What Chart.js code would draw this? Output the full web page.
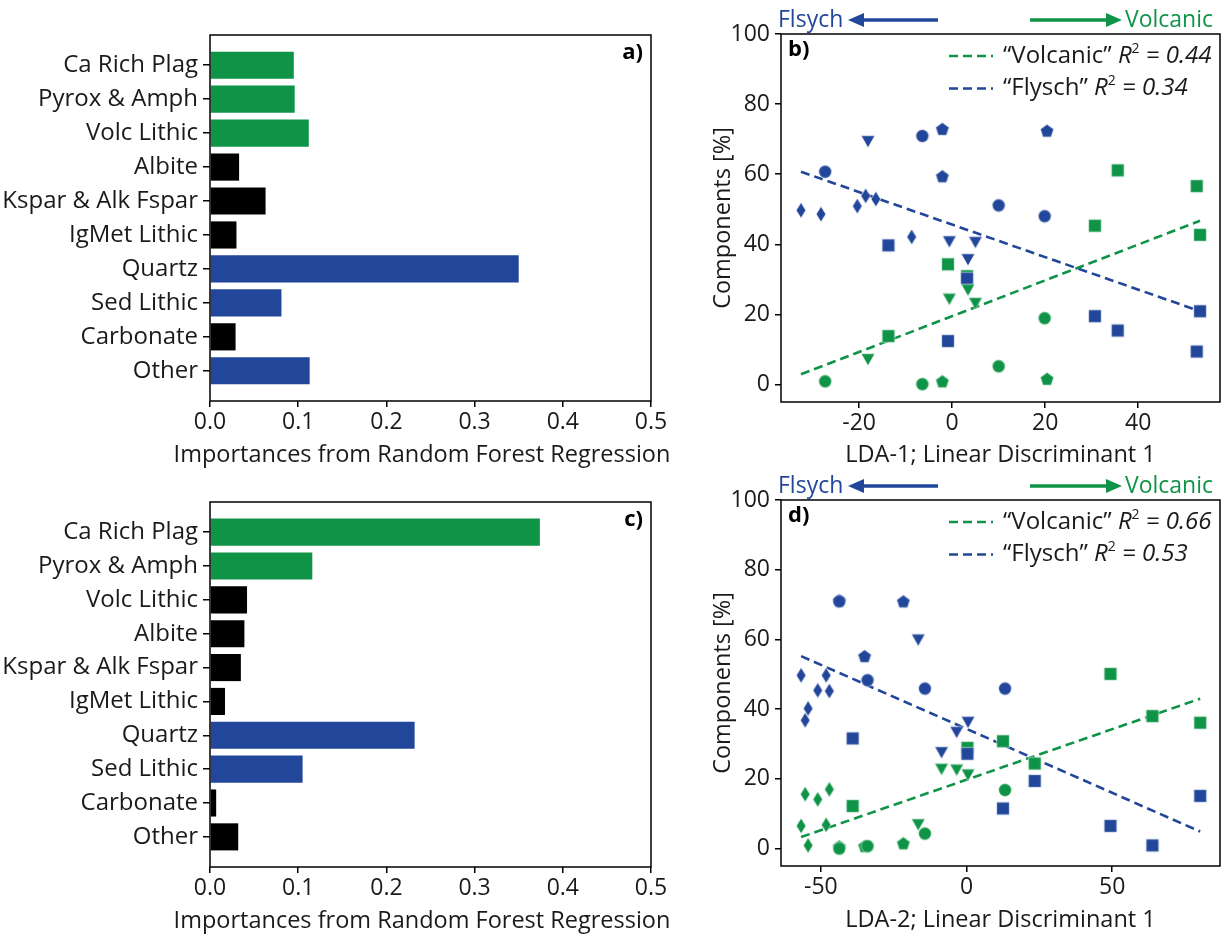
<!DOCTYPE html>
<html>
<head>
<meta charset="utf-8">
<script src="https://cdn.jsdelivr.net/npm/chart.js@4.4.1/dist/chart.umd.min.js"></script>
<style>
  body { margin: 0; background: #fff; width: 1227px; height: 934px; overflow: hidden; position: relative; }
  canvas { position: absolute; }
</style>
</head>
<body>
<canvas id="chartA" width="680" height="470" style="left:0;top:0"></canvas>
<canvas id="chartB" width="547" height="470" style="left:680px;top:0"></canvas>
<canvas id="chartC" width="680" height="464" style="left:0;top:470px"></canvas>
<canvas id="chartD" width="547" height="464" style="left:680px;top:470px"></canvas>
<script>
// categories for the importance bars
const components = ['Ca Rich Plag', 'Pyrox & Amph', 'Volc Lithic', 'Albite', 'Kspar & Alk Fspar',
  'IgMet Lithic', 'Quartz', 'Sed Lithic', 'Carbonate', 'Other'];

const importanceLda1 = [0.095, 0.096, 0.112, 0.033, 0.063, 0.030, 0.350, 0.081, 0.029, 0.113];
const groupLda1 = ['volcanic', 'volcanic', 'volcanic', 'neutral', 'neutral', 'neutral', 'flysch', 'flysch', 'neutral', 'flysch'];
const importanceLda2 = [0.374, 0.116, 0.042, 0.039, 0.035, 0.017, 0.232, 0.105, 0.007, 0.032];
const groupLda2 = ['volcanic', 'volcanic', 'neutral', 'neutral', 'neutral', 'neutral', 'flysch', 'flysch', 'neutral', 'neutral'];
const importanceTicks = [0, 0.1, 0.2, 0.3, 0.4, 0.5];

// LDA-1 scores and components (%) per sample group
const lda1CircleX = [-27.3, -6.4, 10.0, 19.9];
const lda1CircleFlysch = [60.7, 70.9, 51.1, 48.0];
const lda1CircleVolcanic = [0.9, 0.1, 5.2, 18.9];
const lda1PentagonX = [-2.1, -2.1, 20.4];
const lda1PentagonFlysch = [72.9, 59.4, 72.4];
const lda1PentagonVolcanic = [0.9, null, 1.6];
const lda1TriangleX = [-18.1, -0.6, 3.4, 5.0];
const lda1TriangleFlysch = [69.5, 40.9, 35.8, 40.7];
const lda1TriangleVolcanic = [7.3, 24.5, 27.1, 23.3];
const lda1DiamondX = [-32.5, -28.2, -20.4, -18.6, -16.4, -8.7];
const lda1DiamondFlysch = [49.7, 48.6, 50.9, 53.8, 52.9, 42.1];
const lda1DiamondVolcanic = [null, null, null, null, null, null];
const lda1SquareX = [-13.7, -0.9, 3.2, 30.7, 35.6, 52.6, 53.3];
const lda1SquareFlysch = [39.7, 12.4, 30.2, 19.5, 15.4, 9.4, 20.9];
const lda1SquareVolcanic = [13.8, 34.3, 30.9, 45.3, 61.1, 56.6, 42.7];
const lda1FitX = [-32.5, 53.3];
const lda1FitFlysch = [60.7, 20.9];
const lda1FitVolcanic = [2.9, 46.7];
const lda1Ticks = [-20, 0, 20, 40];

// LDA-2
const lda2CircleX = [-43.7, -34.0, -14.3, 13.2];
const lda2CircleFlysch = [70.9, 48.3, 45.9, 45.9];
const lda2CircleVolcanic = [0.0, 0.7, 4.3, 16.8];
const lda2PentagonX = [-43.7, -35.0, -21.7];
const lda2PentagonFlysch = [71.2, 55.2, 70.9];
const lda2PentagonVolcanic = [0.6, 0.7, 1.5];
const lda2TriangleX = [-16.6, -8.6, -3.4, 0.5];
const lda2TriangleFlysch = [60.0, 27.7, 33.5, 36.4];
const lda2TriangleVolcanic = [7.0, 22.9, 22.7, 21.3];
const lda2DiamondX = [-56.8, -55.4, -54.4, -51.1, -48.2, -47.1];
const lda2DiamondFlysch = [49.7, 36.8, 40.2, 45.4, 49.7, 45.2];
const lda2DiamondVolcanic = [6.5, 15.6, 0.9, 14.1, 6.8, 17.0];
const lda2SquareX = [-39.1, 0.3, 12.5, 23.4, 49.4, 63.8, 80.2];
const lda2SquareFlysch = [31.6, 27.2, 11.5, 19.4, 6.5, 0.9, 15.1];
const lda2SquareVolcanic = [12.2, 28.9, 30.8, 24.4, 50.1, 38.0, 36.1];
const lda2FitX = [-56.8, 80.2];
const lda2FitFlysch = [55.2, 4.9];
const lda2FitVolcanic = [3.3, 43.0];
const lda2Ticks = [-50, 0, 50];

const componentTicks = [0, 20, 40, 60, 80, 100];

const palette = { volcanic: '#0f9447', flysch: '#21469a', neutral: '#000000' };
const ink = '#1a1a1a';
const face = "'Open Sans'";
const titleFont = { family: face, size: 23.5 };

Chart.defaults.font.family = face;
Chart.defaults.font.size = 23;
Chart.defaults.color = ink;

// little canvases used as point styles
function marker(shape, color) {
  const c = document.createElement('canvas');
  c.width = 20; c.height = 20;
  const g = c.getContext('2d');
  g.translate(10, 10);
  g.fillStyle = color;
  g.strokeStyle = 'rgba(255,255,255,0.7)';
  g.lineWidth = 0.8;
  g.beginPath();
  if (shape === 'circle') {
    g.arc(0, 0, 6.4, 0, Math.PI * 2);
  } else if (shape === 'square') {
    g.rect(-6.3, -6.3, 12.6, 12.6);
  } else if (shape === 'triangle') {
    g.moveTo(-6.8, -5.2); g.lineTo(6.8, -5.2); g.lineTo(0, 6.8); g.closePath();
  } else if (shape === 'diamond') {
    g.moveTo(0, -7.8); g.lineTo(4.8, 0); g.lineTo(0, 7.8); g.lineTo(-4.8, 0); g.closePath();
  } else {
    for (let k = 0; k < 5; k++) {
      const a = -Math.PI / 2 + k * 2 * Math.PI / 5;
      const px = 7 * Math.cos(a), py = 7 * Math.sin(a) + 0.6;
      k ? g.lineTo(px, py) : g.moveTo(px, py);
    }
    g.closePath();
  }
  g.fill();
  g.stroke();
  return c;
}

const framePlugin = {
  id: 'frame',
  afterDraw(chart) {
    const { ctx, chartArea: a } = chart;
    ctx.save();
    ctx.strokeStyle = '#000';
    ctx.lineWidth = 1.5;
    ctx.strokeRect(a.left, a.top, a.right - a.left, a.bottom - a.top);
    ctx.restore();
  }
};

const tagPlugin = {
  id: 'tag',
  afterDraw(chart, args, opts) {
    const { ctx, chartArea: a } = chart;
    ctx.save();
    ctx.font = 'bold 22px ' + face;
    ctx.fillStyle = '#000';
    ctx.textBaseline = 'middle';
    if (opts.side === 'right') {
      ctx.textAlign = 'right';
      ctx.fillText(opts.text, a.right - 8, a.top + 18);
    } else {
      ctx.textAlign = 'left';
      ctx.fillText(opts.text, a.left + 7, a.top + 16);
    }
    ctx.restore();
  }
};

// the bar axis title is wider than the axis, so it is drawn here without a maxWidth squeeze
const wideTitlePlugin = {
  id: 'wideTitle',
  afterDraw(chart, args, opts) {
    const { ctx } = chart;
    ctx.save();
    ctx.font = titleFont.size + 'px ' + face;
    ctx.fillStyle = ink;
    ctx.textAlign = 'center';
    ctx.textBaseline = 'middle';
    ctx.fillText(opts.text, opts.x, opts.y);
    ctx.restore();
  }
};

// dashed-line legend with italic R^2 and the direction arrows above the panel
const annotatePlugin = {
  id: 'annotate',
  afterDraw(chart, args, opts) {
    const { ctx, chartArea: a } = chart;
    ctx.save();
    ctx.textBaseline = 'middle';
    opts.rows.forEach((row, i) => {
      const y = a.top + 22 + i * 32.5;
      ctx.strokeStyle = row.color;
      ctx.lineWidth = 2.6;
      ctx.setLineDash([9, 5]);
      ctx.beginPath();
      ctx.moveTo(a.left + 168, y);
      ctx.lineTo(a.left + 212, y);
      ctx.stroke();
      ctx.setLineDash([]);
      let x = a.left + 222;
      ctx.fillStyle = ink;
      ctx.textAlign = 'left';
      ctx.font = '24px ' + face;
      ctx.fillText(row.name + ' ', x, y);
      x += ctx.measureText(row.name + ' ').width;
      ctx.font = 'italic 24px ' + face;
      ctx.fillText('R', x, y);
      x += ctx.measureText('R').width;
      ctx.font = '14px ' + face;
      ctx.fillText('2', x, y - 7);
      x += ctx.measureText('2').width;
      ctx.font = 'italic 24px ' + face;
      ctx.fillText(' = ' + row.r2, x, y);
    });

    const ay = a.top - 14;
    ctx.font = '23px ' + face;
    ctx.fillStyle = palette.flysch;
    ctx.textAlign = 'left';
    ctx.fillText('Flsych', a.left - 3, ay);
    ctx.fillStyle = palette.volcanic;
    ctx.textAlign = 'right';
    ctx.fillText('Volcanic', a.right - 7, ay);

    const arrow = (from, tip, color) => {
      const dir = Math.sign(tip - from);
      ctx.strokeStyle = color;
      ctx.fillStyle = color;
      ctx.lineWidth = 3.5;
      ctx.beginPath();
      ctx.moveTo(from, ay);
      ctx.lineTo(tip - dir * 12, ay);
      ctx.stroke();
      ctx.beginPath();
      ctx.moveTo(tip, ay);
      ctx.lineTo(tip - dir * 16, ay - 7);
      ctx.lineTo(tip - dir * 16, ay + 7);
      ctx.closePath();
      ctx.fill();
    };
    arrow(a.left + 157, a.left + 67, palette.flysch);
    arrow(a.left + 249, a.left + 341, palette.volcanic);
    ctx.restore();
  }
};

function tickGrid() {
  return { drawOnChartArea: false, drawTicks: true, tickLength: 6, color: '#000', lineWidth: 1.5, offset: false };
}

function barChart(id, values, groups, tag, padTop, axisHeight, titleY) {
  return new Chart(document.getElementById(id), {
    type: 'bar',
    data: {
      datasets: [{
        data: values.map((v, i) => ({ x: v, y: i })),
        backgroundColor: groups.map(g => palette[g]),
        borderWidth: 0,
        barPercentage: 0.8,
        categoryPercentage: 1
      }]
    },
    options: {
      indexAxis: 'y',
      responsive: false,
      animation: false,
      layout: { padding: { top: padTop, right: 29, left: 0, bottom: 0 } },
      plugins: {
        legend: { display: false }, tooltip: { enabled: false },
        tag: { text: tag, side: 'right' },
        wideTitle: { text: 'Importances from Random Forest Regression', x: 422, y: titleY }
      },
      scales: {
        x: {
          type: 'linear', min: 0, max: 0.5, offset: false,
          afterBuildTicks: s => { s.ticks = importanceTicks.map(v => ({ value: v })); },
          ticks: { callback: v => v.toFixed(1), padding: 2, maxRotation: 0 },
          grid: tickGrid(),
          border: { display: false },
          afterFit: s => { s.height = axisHeight; }
        },
        y: {
          type: 'linear', reverse: true, min: -0.89, max: 9.89, offset: false,
          afterBuildTicks: s => { s.ticks = components.map((_, i) => ({ value: i })); },
          ticks: { callback: v => components[v], padding: 5, autoSkip: false, font: { size: 24 } },
          grid: Object.assign(tickGrid(), { tickLength: 7 }),
          border: { display: false },
          afterFit: s => { s.width = 210; }
        }
      }
    },
    plugins: [framePlugin, tagPlugin, wideTitlePlugin]
  });
}

function scatterChart(id, cfg) {
  const datasets = [];
  cfg.markers.forEach(([shape, xs, flysch, volcanic]) => {
    datasets.push({
      data: xs.map((x, i) => ({ x, y: flysch[i] })),
      pointStyle: marker(shape, palette.flysch), pointRadius: 6, pointHoverRadius: 6
    });
    datasets.push({
      data: xs.map((x, i) => ({ x, y: volcanic[i] })),
      pointStyle: marker(shape, palette.volcanic), pointRadius: 6, pointHoverRadius: 6
    });
  });
  datasets.push({
    data: cfg.fitX.map((x, i) => ({ x, y: cfg.fitVolcanic[i] })),
    showLine: true, pointRadius: 0, borderColor: palette.volcanic, borderWidth: 2.6, borderDash: [9, 5]
  });
  datasets.push({
    data: cfg.fitX.map((x, i) => ({ x, y: cfg.fitFlysch[i] })),
    showLine: true, pointRadius: 0, borderColor: palette.flysch, borderWidth: 2.6, borderDash: [9, 5]
  });

  return new Chart(document.getElementById(id), {
    type: 'scatter',
    data: { datasets },
    options: {
      responsive: false,
      animation: false,
      layout: { padding: { top: cfg.padTop, right: 6, left: 0, bottom: 0 } },
      plugins: {
        legend: { display: false }, tooltip: { enabled: false },
        tag: { text: cfg.tag, side: 'left' },
        annotate: { rows: [
          { color: palette.volcanic, name: '\u201cVolcanic\u201d', r2: cfg.r2Volcanic },
          { color: palette.flysch, name: '\u201cFlysch\u201d', r2: cfg.r2Flysch }
        ] }
      },
      scales: {
        x: {
          type: 'linear', min: cfg.xMin, max: cfg.xMax,
          afterBuildTicks: s => { s.ticks = cfg.xTicks.map(v => ({ value: v })); },
          ticks: { padding: 2, maxRotation: 0 },
          grid: tickGrid(),
          border: { display: false },
          title: { display: true, text: cfg.xTitle, font: titleFont, padding: { top: 0, bottom: cfg.titlePad } },
          afterFit: s => { s.height = cfg.axisHeight; }
        },
        y: {
          type: 'linear', min: -5, max: 100,
          afterBuildTicks: s => { s.ticks = componentTicks.map(v => ({ value: v })); },
          ticks: { padding: 5 },
          grid: tickGrid(),
          border: { display: false },
          title: { display: true, text: 'Components [%]', font: titleFont, padding: { top: 29, bottom: 0 } },
          afterFit: s => { s.width = 101; }
        }
      }
    },
    plugins: [framePlugin, tagPlugin, annotatePlugin]
  });
}

barChart('chartA', importanceLda1, groupLda1, 'a)', 35, 69, 455);
barChart('chartC', importanceLda2, groupLda2, 'c)', 32, 67, 451);

scatterChart('chartB', {
  markers: [
    ['circle', lda1CircleX, lda1CircleFlysch, lda1CircleVolcanic],
    ['pentagon', lda1PentagonX, lda1PentagonFlysch, lda1PentagonVolcanic],
    ['triangle', lda1TriangleX, lda1TriangleFlysch, lda1TriangleVolcanic],
    ['diamond', lda1DiamondX, lda1DiamondFlysch, lda1DiamondVolcanic],
    ['square', lda1SquareX, lda1SquareFlysch, lda1SquareVolcanic]
  ],
  fitX: lda1FitX, fitFlysch: lda1FitFlysch, fitVolcanic: lda1FitVolcanic,
  xMin: -36.8, xMax: 57.6, xTicks: lda1Ticks,
  xTitle: 'LDA-1; Linear Discriminant 1',
  padTop: 34, axisHeight: 68, titlePad: 1,
  tag: 'b)', r2Volcanic: '0.44', r2Flysch: '0.34'
});

scatterChart('chartD', {
  markers: [
    ['circle', lda2CircleX, lda2CircleFlysch, lda2CircleVolcanic],
    ['pentagon', lda2PentagonX, lda2PentagonFlysch, lda2PentagonVolcanic],
    ['triangle', lda2TriangleX, lda2TriangleFlysch, lda2TriangleVolcanic],
    ['diamond', lda2DiamondX, lda2DiamondFlysch, lda2DiamondVolcanic],
    ['square', lda2SquareX, lda2SquareFlysch, lda2SquareVolcanic]
  ],
  fitX: lda2FitX, fitFlysch: lda2FitFlysch, fitVolcanic: lda2FitVolcanic,
  xMin: -63.7, xMax: 87.0, xTicks: lda2Ticks,
  xTitle: 'LDA-2; Linear Discriminant 1',
  padTop: 30, axisHeight: 68, titlePad: 0,
  tag: 'd)', r2Volcanic: '0.66', r2Flysch: '0.53'
});
</script>
</body>
</html>
